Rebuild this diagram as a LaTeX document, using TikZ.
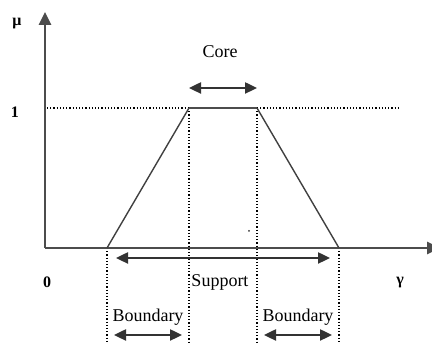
\documentclass[tikz,border=0pt]{standalone}
\usepackage{fontspec}
\setmainfont{Liberation Serif}
\usetikzlibrary{arrows.meta}
\begin{document}
\begin{tikzpicture}[x=1pt,y=-1pt,
  axisline/.style={draw=black!70,line width=2.6pt},
  mfline/.style={draw=black!75,line width=1.4pt},
  guide/.style={draw=black,line width=1.2pt,dotted},
  dimarrow/.style={draw=black!80,line width=2.4pt,{Triangle[length=12pt,width=11pt]}-{Triangle[length=12pt,width=11pt]}},
  lbl/.style={font=\fontsize{18}{20}\selectfont,inner sep=0pt},
  axlbl/.style={font=\bfseries\fontsize{16}{18}\selectfont,inner sep=0pt}]
\useasboundingbox (0,0) rectangle (432,344);
% key points
\coordinate (O) at (45,248);
\coordinate (ytop) at (45,12);
\coordinate (xend) at (440,248);
\coordinate (A) at (107,248);
\coordinate (B) at (189,108);
\coordinate (C) at (257,108);
\coordinate (D) at (339,248);
\coordinate (oneL) at (47,108);
\coordinate (oneR) at (398,108);
\coordinate (Abot) at (107,344);
\coordinate (Bbot) at (189,344);
\coordinate (Cbot) at (257,344);
\coordinate (Dbot) at (339,344);
% guides
\draw[guide] (oneL) -- (B);
\draw[guide] (C) -- (oneR);
\draw[guide] (A) -- (Abot);
\draw[guide] (B) -- (Bbot);
\draw[guide] (C) -- (Cbot);
\draw[guide] (D) -- (Dbot);
% axes
\draw[axisline,-{Triangle[length=13pt,width=12pt]}] (O) -- (ytop);
\draw[axisline,-{Triangle[length=13pt,width=12pt]}] (O) -- (xend);
% membership function
\draw[mfline] (A) -- (B);
\draw[draw=black!70,line width=2.4pt] (B) -- (C);
\draw[mfline] (C) -- (D);
% labels
\node[axlbl] (mu) at (17,24) {μ};
\node[axlbl] (one) at (15,112) {1};
\node[axlbl] (zero) at (47,282) {0};
\node[axlbl] (gam) at (400,283) {γ};
% core
\node[lbl] (core) at (220,52) {Core};
\coordinate (coreL) at (189,88);
\coordinate (coreR) at (257,88);
\draw[dimarrow] (coreL) -- (coreR);
% support
\node[lbl] (support) at (220,282) {Support};
\coordinate (supL) at (116,258);
\coordinate (supR) at (330,258);
\draw[dimarrow] (supL) -- (supR);
% boundaries
\node[lbl] (bndL) at (148,317) {Boundary};
\coordinate (bLa) at (114,335);
\coordinate (bLb) at (182,335);
\draw[dimarrow] (bLa) -- (bLb);
\node[lbl] (bndR) at (298,317) {Boundary};
\coordinate (bRa) at (264,335);
\coordinate (bRb) at (332,335);
\draw[dimarrow] (bRa) -- (bRb);
% stray dot
\fill[black!80] (249,231) circle (1pt);
\end{tikzpicture}
\end{document}
